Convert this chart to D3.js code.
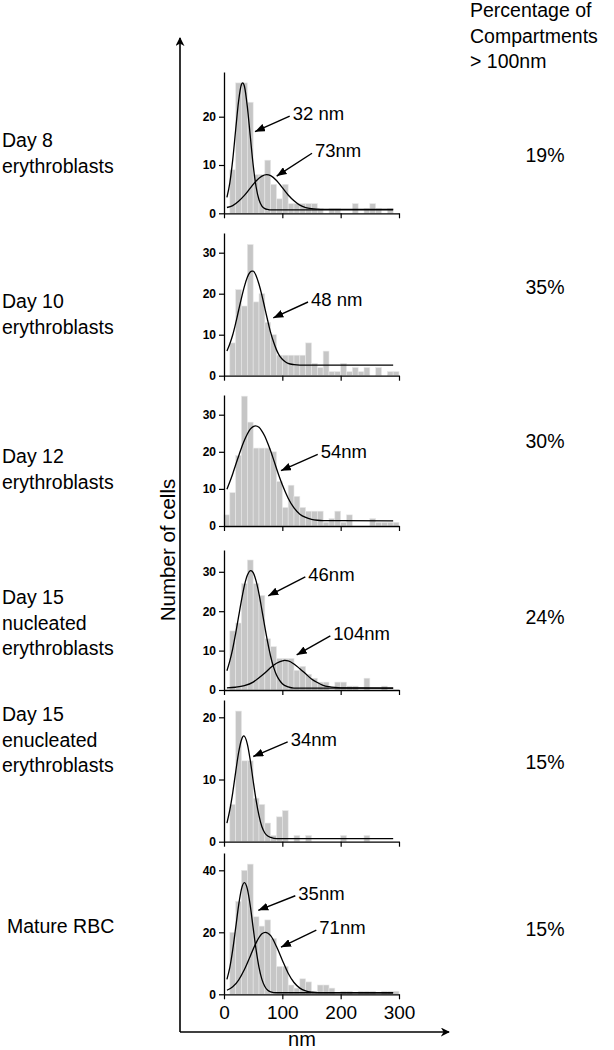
<!DOCTYPE html>
<html><head><meta charset="utf-8">
<script src="https://cdn.jsdelivr.net/npm/d3@7"></script>
<style>body{margin:0;background:#fff}svg{display:block}text{font-family:"Liberation Sans",Arial,sans-serif;fill:#000}</style>
</head><body><svg id="chart" width="614" height="1050"></svg>
<script>
// ---------------- DATA ----------------
const binStarts = [0,10,20,30,40,50,60,70,80,90,100,110,120,130,140,150,160,170,180,190,200,210,220,230,240,250,260,270,280,290];
const countsDay8   = [0,9,27,27,23,8,8,11,6,3,6,2,2,2,2,2,1,0,1,1,0,0,2,0,1,2,1,0,1,0];
const countsDay10  = [0,8,21,17,32,18,20,13,10,5,5,5,5,5,8,3,2,6,1,1,3,1,2,1,2,0,2,0,1,1];
const countsDay12  = [3,9,19,35,28,21,21,21,20,12,5,11,8,5,4,4,4,1,2,4,1,3,0,0,0,2,1,1,1,1];
const countsDay15n = [0,15,17,27,33,27,24,13,11,8,8,8,5,6,4,3,2,2,0,2,2,1,1,0,3,0,0,1,0,0];
const countsDay15e = [0,6,21,13,13,7,6,3,1,4,5,0,1,0,1,0,0,0,0,0,1,0,0,0,1,0,0,0,0,0];
const countsRBC    = [0,20,30,40,42,25,22,24,18,9,9,3,2,5,4,1,3,3,2,0,1,1,0,1,1,1,0,1,1,1];

// fitted curves, points: [nm, count]
const fitDay8a  = [[5,3.3],[10,6.3],[15,11.1],[20,17.3],[25,23.2],[30,26.7],[32,27],[35,26.3],[40,22.1],[45,16],[50,10],[55,5.5],[60,2.8],[65,1.5],[70,0.96],[75,0.8],[80,0.7],[290,0.7]];
const fitDay8b  = [[5,1.2],[15,1.6],[25,2.5],[35,3.7],[45,5.2],[55,6.7],[65,7.7],[73,8],[80,7.8],[90,6.8],[100,5.3],[110,3.8],[120,2.6],[130,1.7],[140,1.2],[150,0.97],[160,0.87],[170,0.82],[290,0.8]];
const fitDay10  = [[5,6],[10,7.8],[15,10],[20,12.8],[25,15.9],[30,19],[35,21.8],[40,24],[45,25.3],[48,25.5],[50,25.5],[55,24.4],[60,22.3],[65,19.6],[70,16.5],[75,13.4],[80,10.5],[85,8.2],[90,6.3],[95,4.9],[100,4],[105,3.4],[110,3],[120,2.7],[130,2.6],[290,2.6]];
const fitDay12  = [[5,9.9],[10,11.9],[15,14.1],[20,16.5],[25,18.8],[30,21.1],[35,23.1],[40,24.8],[45,26.1],[50,26.8],[54,27],[60,26.6],[65,25.6],[70,24.2],[75,22.3],[80,20.2],[85,17.9],[90,15.5],[95,13.2],[100,11.1],[110,7.5],[120,4.9],[130,3.2],[140,2.3],[150,1.8],[160,1.55],[170,1.45],[290,1.4]];
const fitDay15na = [[5,4.9],[10,7.4],[15,10.5],[20,14.4],[25,18.6],[30,22.8],[35,26.5],[40,29.1],[46,30.3],[50,29.8],[55,27.7],[60,24.4],[65,20.3],[70,16],[75,12],[80,8.5],[85,5.8],[90,3.8],[95,2.5],[100,1.6],[110,0.8],[120,0.5],[290,0.5]];
const fitDay15nb = [[5,0.54],[20,0.7],[35,1.1],[50,2],[60,3.1],[70,4.3],[80,5.7],[90,6.8],[100,7.4],[104,7.5],[110,7.4],[120,6.6],[130,5.4],[140,4.1],[150,2.8],[160,1.9],[170,1.2],[180,0.85],[190,0.65],[200,0.56],[290,0.5]];
const fitDay15e = [[5,3],[10,5.1],[15,7.9],[20,11.2],[25,14.3],[30,16.4],[34,17],[40,15.7],[45,13.1],[50,9.8],[55,6.7],[60,4.2],[65,2.4],[70,1.4],[75,0.9],[80,0.7],[90,0.5],[290,0.5]];
const fitRBCa   = [[5,4.8],[10,8.7],[15,14.4],[20,21.4],[25,28.6],[30,34],[35,36],[40,34],[45,28.6],[50,21.4],[55,14.4],[60,8.7],[65,4.8],[70,2.5],[75,1.3],[80,0.8],[90,0.5],[290,0.5]];
const fitRBCb   = [[5,1.3],[15,2.4],[25,4.6],[35,8],[45,12.3],[55,16.6],[65,19.5],[71,20],[80,18.9],[90,15.4],[100,11],[110,6.8],[120,3.8],[130,2],[140,1.1],[150,0.7],[160,0.55],[290,0.5]];

const groupLabels = [["Day 8","erythroblasts"],["Day 10","erythroblasts"],["Day 12","erythroblasts"],["Day 15","nucleated","erythroblasts"],["Day 15","enucleated","erythroblasts"],["Mature RBC"]];
const percentages = ["19%","35%","30%","24%","15%","15%"];
const peakLabels  = [["32 nm","73nm"],["48 nm"],["54nm"],["46nm","104nm"],["34nm"],["35nm","71nm"]];
const xTickValues = [0,100,200,300];
const yTickValues = [[0,10,20],[0,10,20,30],[0,10,20,30],[0,10,20,30],[0,10,20],[0,20,40]];
const headerLines = ["Percentage of","Compartments","> 100nm"];
const yTitle = "Number of cells";
const xTitle = "nm";

const allCounts = [countsDay8,countsDay10,countsDay12,countsDay15n,countsDay15e,countsRBC];
const allFits = [[fitDay8a,fitDay8b],[fitDay10],[fitDay12],[fitDay15na,fitDay15nb],[fitDay15e],[fitRBCa,fitRBCb]];

// ---------------- LAYOUT ----------------
const panels = [
  {y0:213.3, ppu:4.83, top:72,  labelY:147, pctY:162},
  {y0:375.7, ppu:4.10, top:233, labelY:308, pctY:294},
  {y0:526,   ppu:3.71, top:395, labelY:463, pctY:448},
  {y0:690,   ppu:3.94, top:550, labelY:604, pctY:624},
  {y0:841.7, ppu:6.22, top:700, labelY:721, pctY:769},
  {y0:994.3, ppu:3.10, top:853, labelY:933, pctY:936, labelX:7}
];
// annotation anchor positions in data coords [text nm, text count, tip nm, tip count]
const annotPos = [
  [[117.8,19.3,53.1,16.9],[156,11.6,90.3,7.7]],
  [[149.2,17.0,84.5,14.1]],
  [[165.8,18.2,97.7,14.9]],
  [[144.5,27.7,75.9,23.9],[187.4,12.7,124.6,8.9]],
  [[114.3,15.4,50.2,13.7]],
  [[127.4,30.5,58.8,27.1],[163.4,19.4,97.7,15.2]]
];

const svg = d3.select("#chart");
const defs = svg.append("defs");
defs.append("marker").attr("id","ah").attr("viewBox","0 0 10 8").attr("refX",10).attr("refY",4)
  .attr("markerWidth",10).attr("markerHeight",8).attr("markerUnits","userSpaceOnUse").attr("orient","auto")
  .append("path").attr("d","M0,0 L10,4 L0,8 Z").attr("fill","#000");
defs.append("marker").attr("id","bigah").attr("viewBox","0 0 10 10").attr("refX",9).attr("refY",5)
  .attr("markerWidth",9).attr("markerHeight",9).attr("markerUnits","userSpaceOnUse").attr("orient","auto")
  .append("path").attr("d","M0,0 L10,5 L0,10 L3,5 Z").attr("fill","#000");

const x = d3.scaleLinear().domain([0,300]).range([224,399]);
const binW = 10;

panels.forEach((p,i)=>{
  const y = d3.scaleLinear().domain([0,(p.y0-p.top)/p.ppu]).range([p.y0,p.top]);
  const g = svg.append("g");
  g.selectAll("rect").data(binStarts.map((b,j)=>({b,v:allCounts[i][j]})).filter(d=>d.v>0))
    .enter().append("rect")
    .attr("x",d=>x(d.b)).attr("width",x(binW)-x(0))
    .attr("y",d=>y(d.v)).attr("height",d=>y(0)-y(d.v))
    .attr("fill","#c6c6c6").attr("stroke","#e8e8e8").attr("stroke-width",0.6);
  const line = d3.line().x(d=>x(d[0])).y(d=>y(d[1])).curve(d3.curveMonotoneX);
  allFits[i].forEach(f=>{
    g.append("path").attr("d",line(f)).attr("fill","none").attr("stroke","#000").attr("stroke-width",1.3);
  });
  const ya = g.append("g").attr("transform",`translate(${x(0)},0)`)
    .call(d3.axisLeft(y).tickValues(yTickValues[i]).tickSize(5).tickPadding(3).tickSizeOuter(0));
  ya.select(".domain").attr("stroke-width",1.3);
  ya.selectAll(".tick line").attr("stroke-width",1.2);
  ya.selectAll("text").attr("font-size",12).attr("font-weight","bold").attr("font-family","Liberation Sans, Arial, sans-serif");
  const xa = g.append("g").attr("transform",`translate(0,${p.y0})`)
    .call(d3.axisBottom(x).tickValues(xTickValues).tickSize(5).tickSizeOuter(0).tickPadding(6));
  xa.select(".domain").attr("stroke-width",1.3);
  xa.selectAll(".tick line").attr("stroke-width",1.2);
  if (i < panels.length-1) xa.selectAll("text").remove();
  else xa.selectAll("text").attr("font-size",19).attr("font-family","Liberation Sans, Arial, sans-serif");
  peakLabels[i].forEach((lab,k)=>{
    const a = annotPos[i][k];
    const tx = x(a[0]), ty = y(a[1]);
    g.append("line").attr("x1",tx-3).attr("y1",ty-4).attr("x2",x(a[2])).attr("y2",y(a[3]))
      .attr("stroke","#000").attr("stroke-width",1.4).attr("marker-end","url(#ah)");
    g.append("text").attr("x",tx).attr("y",ty).attr("font-size",18.5).text(lab);
  });
  const t = svg.append("text").attr("x",p.labelX||2).attr("y",p.labelY).attr("font-size",19.5);
  groupLabels[i].forEach((l,k)=>t.append("tspan").attr("x",p.labelX||2).attr("dy",k?25.5:0).text(l));
  svg.append("text").attr("x",545).attr("y",p.pctY).attr("text-anchor","middle").attr("font-size",19.5).text(percentages[i]);
});

svg.append("line").attr("x1",180).attr("y1",1032).attr("x2",180).attr("y2",38)
  .attr("stroke","#000").attr("stroke-width",1.6).attr("marker-end","url(#bigah)");
svg.append("line").attr("x1",180).attr("y1",1032).attr("x2",449).attr("y2",1032)
  .attr("stroke","#000").attr("stroke-width",1.6).attr("marker-end","url(#bigah)");
svg.append("text").attr("transform","translate(175,550) rotate(-90)").attr("text-anchor","middle")
  .attr("font-size",20.5).text(yTitle);
svg.append("text").attr("x",302).attr("y",1046).attr("text-anchor","middle").attr("font-size",20).text(xTitle);

const h = svg.append("text").attr("x",470).attr("y",17).attr("font-size",19.5);
headerLines.forEach((l,k)=>h.append("tspan").attr("x",470).attr("dy",k?25.5:0).text(l));
</script></body></html>
